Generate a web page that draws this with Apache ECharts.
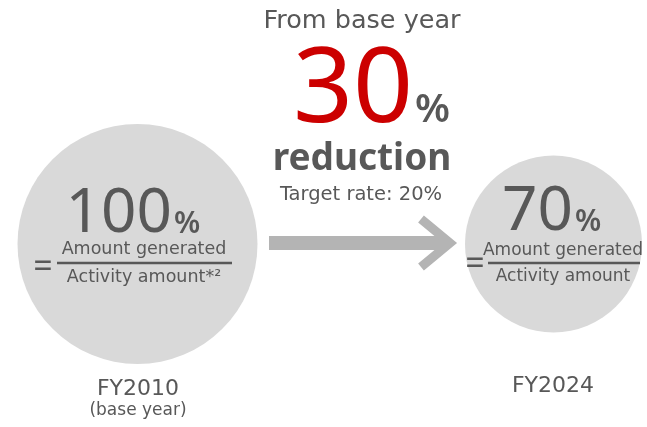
<!DOCTYPE html>
<html>
<head>
<meta charset="utf-8">
<script src="https://cdn.jsdelivr.net/npm/echarts@6/dist/echarts.min.js"></script>
<style>
  html, body { margin: 0; padding: 0; background: #fff; }
  #container { width: 647px; height: 427px; }
</style>
</head>
<body>
<div id="container"></div>
<script>
var dom = document.getElementById("container");
var myChart = echarts.init(dom, null, { renderer: "canvas" });

// data
var years = ["FY2010", "FY2024"];
var yearNotes = ["(base year)", ""];
var ratios = [100, 70];
var numerators = ["Amount generated", "Amount generated"];
var denominators = ["Activity amount*\u00b2", "Activity amount"];
var headline = "From base year";
var reductionRate = 30;
var targetRate = 20;

var FONT = "DejaVu Sans";
var NUMFONT = "Noto Sans";
var GRAY = "#585858";
var CIRCLE = "#d9d9d9";
var ARROW = "#b4b4b4";
var sizes = [240, 177];

function txt(x, y, text, size, opt) {
  opt = opt || {};
  return {
    type: "text",
    x: x,
    y: y,
    z: 10,
    style: {
      text: text,
      fontFamily: opt.font || FONT,
      fontSize: size,
      fontWeight: opt.weight || "normal",
      fill: opt.color || GRAY,
      align: opt.align || "center",
      verticalAlign: "middle"
    }
  };
}

var graphics = [
  txt(362, 21, headline, 25.5),
  txt(413, 92, String(reductionRate), 105, { align: "right", color: "#cc0000", font: NUMFONT }),
  txt(415, 111, "%", 40, { align: "left", weight: 600, font: NUMFONT }),
  txt(362, 159, "reduction", 37, { weight: "bold", font: NUMFONT }),
  txt(361, 195, "Target rate: " + targetRate + "%", 19.5),
  // arrow
  { type: "rect", shape: { x: 269, y: 236, width: 178, height: 14 }, style: { fill: ARROW } },
  {
    type: "polyline",
    shape: { points: [[421, 219], [450, 243], [421, 267]] },
    style: { stroke: ARROW, lineWidth: 9, fill: null, lineJoin: "miter" }
  }
];

// per-circle texts
var layout = [
  { numR: 172, numY: 214, pctY: 224, cx: 144, eqX: 43, eqY: 268, lineL: 57, lineR: 232, numTop: 249, denY: 277, yearX: 138, yearY: 389, fs: 17.5 },
  { numR: 573, numY: 212, pctY: 222, cx: 563, eqX: 475, eqY: 265, lineL: 488, lineR: 640, numTop: 251, denY: 277, yearX: 553, yearY: 386, fs: 17 }
];
ratios.forEach(function (v, i) {
  var L = layout[i];
  graphics.push(txt(L.numR, L.numY, String(v), 62, { align: "right", font: NUMFONT }));
  graphics.push(txt(L.numR + 2, L.pctY, "%", 30, { align: "left", weight: 600, font: NUMFONT }));
  graphics.push(txt(L.cx, L.numTop, numerators[i], L.fs));
  graphics.push({
    type: "line", z: 10,
    shape: { x1: L.lineL, y1: 263, x2: L.lineR, y2: 263 },
    style: { stroke: GRAY, lineWidth: 2.5 }
  });
  graphics.push(txt(L.eqX, L.eqY, "=", 34, { font: NUMFONT }));
  graphics.push(txt(L.cx, L.denY, denominators[i], L.fs));
  graphics.push(txt(L.yearX, L.yearY, years[i], 22));
  if (yearNotes[i]) graphics.push(txt(L.yearX, 411, yearNotes[i], 17));
});

var option = {
  backgroundColor: "#fff",
  animation: false,
  grid: { left: 137.5, right: 93.5, top: 144, bottom: 83 },
  xAxis: { type: "category", data: years, boundaryGap: false, show: false },
  yAxis: { type: "value", min: -1, max: 1, show: false },
  series: [
    {
      type: "scatter",
      data: ratios.map(function (v) { return 0; }),
      symbolSize: function (val, params) { return sizes[params.dataIndex]; },
      itemStyle: { color: CIRCLE, opacity: 1 },
      silent: true
    }
  ],
  graphic: graphics
};

if (option && typeof option === "object") {
  myChart.setOption(option);
}
</script>
</body>
</html>
